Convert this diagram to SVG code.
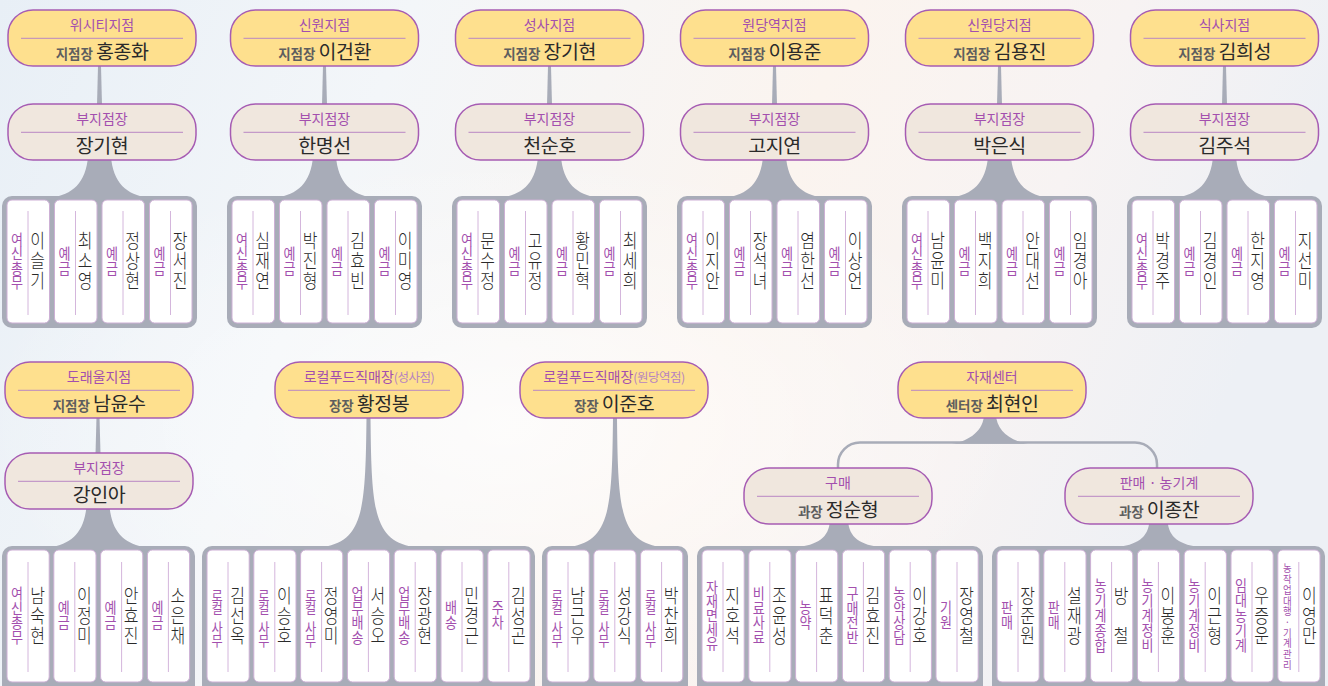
<svg xmlns="http://www.w3.org/2000/svg" xmlns:xlink="http://www.w3.org/1999/xlink" width="1328" height="686" viewBox="0 0 1328 686">
<defs>
<linearGradient id="bg" x1="0" y1="0" x2="1" y2="0.2">
<stop offset="0" stop-color="#e8eff6"/>
<stop offset="0.3" stop-color="#f3f6f9"/>
<stop offset="0.62" stop-color="#fbf4ef"/>
<stop offset="0.82" stop-color="#f7f3f3"/>
<stop offset="1" stop-color="#edf0f5"/>
</linearGradient>
<radialGradient id="glow" cx="0.38" cy="0.62" r="0.4">
<stop offset="0" stop-color="#ffffff" stop-opacity="0.7"/>
<stop offset="1" stop-color="#ffffff" stop-opacity="0"/>
</radialGradient>
<g id="cT"><rect class="card" width="42.5" height="123" rx="5"/><line class="cl" x1="21" y1="11" x2="21" y2="115"/></g>
<g id="cB"><rect class="card" width="42.2" height="132" rx="5"/><line class="cl" x1="21" y1="12" x2="21" y2="122"/></g>
</defs>
<style>
text{font-family:'Noto Sans CJK KR','Noto Sans',sans-serif}
.card{fill:#ffffff;stroke:#cdb0d5;stroke-width:1}
.cl{stroke:#d4b6dc;stroke-width:1}
.box{fill:#a8acb8}
.pill{stroke:#a65cb3;stroke-width:1.5}
.yl{fill:#fee08e}
.bz{fill:#f0e7de}
.dv{stroke:#b987c4;stroke-width:1}
.tt{font-size:14px;fill:#a34fae;text-anchor:middle}
.sm{font-size:12.5px;fill:#b784c0;letter-spacing:-0.5px}
.n2{font-size:19.5px;fill:#2a2a2a;text-anchor:middle;letter-spacing:-0.5px}
.lb{font-size:13.5px;fill:#5e5e5e;font-weight:700;letter-spacing:0}
.nm{font-size:19.5px;fill:#2a2a2a;text-anchor:middle;font-weight:300}
.rl{font-size:14.5px;fill:#a34fae;text-anchor:middle}
.rs{font-size:13.5px;fill:#a34fae;text-anchor:middle}
.rx{font-size:10.5px;fill:#a34fae;text-anchor:middle}
.conn{fill:#a8acb8}
.ln{fill:none;stroke:#a8acb8;stroke-width:2.5}
</style>
<rect width="1328" height="686" fill="url(#bg)"/>
<rect width="1328" height="686" fill="url(#glow)"/>

<g id="connectors">
<path class="conn" d="M98 66 L101 66 L102 105 L97 105 Z"/>
<path class="conn" d="M323 66 L326 66 L327 105 L322 105 Z"/>
<path class="conn" d="M548 66 L551 66 L552 105 L547 105 Z"/>
<path class="conn" d="M773 66 L776 66 L777 105 L772 105 Z"/>
<path class="conn" d="M998 66 L1001 66 L1002 105 L997 105 Z"/>
<path class="conn" d="M1223 66 L1226 66 L1227 105 L1222 105 Z"/>
<path class="conn" d="M88.5 150 C87.5 180 75.5 193 54.5 197 L144.5 197 C123.5 193 111.5 180 110.5 150 Z"/>
<path class="conn" d="M313.5 150 C312.5 180 300.5 193 279.5 197 L369.5 197 C348.5 193 336.5 180 335.5 150 Z"/>
<path class="conn" d="M538.5 150 C537.5 180 525.5 193 504.5 197 L594.5 197 C573.5 193 561.5 180 560.5 150 Z"/>
<path class="conn" d="M763.5 150 C762.5 180 750.5 193 729.5 197 L819.5 197 C798.5 193 786.5 180 785.5 150 Z"/>
<path class="conn" d="M988.5 150 C987.5 180 975.5 193 954.5 197 L1044.5 197 C1023.5 193 1011.5 180 1010.5 150 Z"/>
<path class="conn" d="M1213.5 150 C1212.5 180 1200.5 193 1179.5 197 L1269.5 197 C1248.5 193 1236.5 180 1235.5 150 Z"/>
<path class="conn" d="M96.5 417 L99.5 417 L100.5 454 L95.5 454 Z"/>
<path class="conn" d="M87 499 C86 529 75 542 53 547 L143 547 C121 542 110 529 109 499 Z"/>
<path class="conn" d="M366.5 417 C365.5 510 363.5 540 323.5 547 L413.5 547 C373.5 540 371.5 510 370.5 417 Z"/>
<path class="conn" d="M613 417 C612 510 610 540 570 547 L660 547 C620 540 618 510 617 417 Z"/>
<path class="conn" d="M984 414 C984 430 970 441 952 443.8 L1028 443.8 C1010 441 996 430 996 414 Z"/>
<path class="ln" d="M838 472 V465 A22 22 0 0 1 860 442.5 H1135 A22 22 0 0 1 1157 465 V472"/>
<path class="conn" d="M830 518 C830 535 821 544 799 547 L879 547 C857 544 848 535 848 518 Z"/>
<path class="conn" d="M1149.5 518 C1149.5 535 1140.5 544 1118.5 547 L1198.5 547 C1176.5 544 1167.5 535 1167.5 518 Z"/>
</g>

<g id="b1">
<g id="n-wisiti"><rect class="pill yl" x="8" y="10" width="188" height="56" rx="25"/><line class="dv" x1="21" y1="38.3" x2="183" y2="38.3"/><text class="tt" x="102" y="30">위시티지점</text><text class="n2" x="102" y="58.5"><tspan class="lb">지점장 </tspan>홍종화</text></g>
<g id="n-wisiti-sub"><rect class="pill bz" x="8" y="104" width="188" height="56" rx="25"/><line class="dv" x1="21" y1="132.3" x2="183" y2="132.3"/><text class="tt" x="102" y="124">부지점장</text><text class="n2" x="102" y="153">장기현</text></g>
<g id="s-wisiti"><rect class="box" x="2" y="196" width="195" height="132" rx="10"/>
<g transform="translate(7 200)"><use href="#cT"/><text class="rl" transform="translate(10 0) scale(.9 1)" x="0 0 0 0" y="44.75 59.25 73.75 88.25">여신총무</text><text class="nm" transform="translate(30.5 0) scale(.82 1)" x="0 0 0" y="48.5 68.5 88.5">이슬기</text></g>
<g transform="translate(54.5 200)"><use href="#cT"/><text class="rl" transform="translate(10 0) scale(.9 1)" x="0 0" y="59 74">예금</text><text class="nm" transform="translate(30.5 0) scale(.82 1)" x="0 0 0" y="48.5 68.5 88.5">최소영</text></g>
<g transform="translate(102 200)"><use href="#cT"/><text class="rl" transform="translate(10 0) scale(.9 1)" x="0 0" y="59 74">예금</text><text class="nm" transform="translate(30.5 0) scale(.82 1)" x="0 0 0" y="48.5 68.5 88.5">정상현</text></g>
<g transform="translate(149.5 200)"><use href="#cT"/><text class="rl" transform="translate(10 0) scale(.9 1)" x="0 0" y="59 74">예금</text><text class="nm" transform="translate(30.5 0) scale(.82 1)" x="0 0 0" y="48.5 68.5 88.5">장서진</text></g>
</g>
</g>

<g id="b2">
<g id="n-sinwon"><rect class="pill yl" x="230.5" y="10" width="188" height="56" rx="25"/><line class="dv" x1="243.5" y1="38.3" x2="405.5" y2="38.3"/><text class="tt" x="324.5" y="30">신원지점</text><text class="n2" x="324.5" y="58.5"><tspan class="lb">지점장 </tspan>이건환</text></g>
<g id="n-sinwon-sub"><rect class="pill bz" x="230.5" y="104" width="188" height="56" rx="25"/><line class="dv" x1="243.5" y1="132.3" x2="405.5" y2="132.3"/><text class="tt" x="324.5" y="124">부지점장</text><text class="n2" x="324.5" y="153">한명선</text></g>
<g id="s-sinwon"><rect class="box" x="227" y="196" width="195" height="132" rx="10"/>
<g transform="translate(232 200)"><use href="#cT"/><text class="rl" transform="translate(10 0) scale(.9 1)" x="0 0 0 0" y="44.75 59.25 73.75 88.25">여신총무</text><text class="nm" transform="translate(30.5 0) scale(.82 1)" x="0 0 0" y="48.5 68.5 88.5">심재연</text></g>
<g transform="translate(279.5 200)"><use href="#cT"/><text class="rl" transform="translate(10 0) scale(.9 1)" x="0 0" y="59 74">예금</text><text class="nm" transform="translate(30.5 0) scale(.82 1)" x="0 0 0" y="48.5 68.5 88.5">박진형</text></g>
<g transform="translate(327 200)"><use href="#cT"/><text class="rl" transform="translate(10 0) scale(.9 1)" x="0 0" y="59 74">예금</text><text class="nm" transform="translate(30.5 0) scale(.82 1)" x="0 0 0" y="48.5 68.5 88.5">김효빈</text></g>
<g transform="translate(374.5 200)"><use href="#cT"/><text class="rl" transform="translate(10 0) scale(.9 1)" x="0 0" y="59 74">예금</text><text class="nm" transform="translate(30.5 0) scale(.82 1)" x="0 0 0" y="48.5 68.5 88.5">이미영</text></g>
</g>
</g>

<g id="b3">
<g id="n-seongsa"><rect class="pill yl" x="455.5" y="10" width="188" height="56" rx="25"/><line class="dv" x1="468.5" y1="38.3" x2="630.5" y2="38.3"/><text class="tt" x="549.5" y="30">성사지점</text><text class="n2" x="549.5" y="58.5"><tspan class="lb">지점장 </tspan>장기현</text></g>
<g id="n-seongsa-sub"><rect class="pill bz" x="455.5" y="104" width="188" height="56" rx="25"/><line class="dv" x1="468.5" y1="132.3" x2="630.5" y2="132.3"/><text class="tt" x="549.5" y="124">부지점장</text><text class="n2" x="549.5" y="153">천순호</text></g>
<g id="s-seongsa"><rect class="box" x="452" y="196" width="195" height="132" rx="10"/>
<g transform="translate(457 200)"><use href="#cT"/><text class="rl" transform="translate(10 0) scale(.9 1)" x="0 0 0 0" y="44.75 59.25 73.75 88.25">여신총무</text><text class="nm" transform="translate(30.5 0) scale(.82 1)" x="0 0 0" y="48.5 68.5 88.5">문수정</text></g>
<g transform="translate(504.5 200)"><use href="#cT"/><text class="rl" transform="translate(10 0) scale(.9 1)" x="0 0" y="59 74">예금</text><text class="nm" transform="translate(30.5 0) scale(.82 1)" x="0 0 0" y="48.5 68.5 88.5">고유정</text></g>
<g transform="translate(552 200)"><use href="#cT"/><text class="rl" transform="translate(10 0) scale(.9 1)" x="0 0" y="59 74">예금</text><text class="nm" transform="translate(30.5 0) scale(.82 1)" x="0 0 0" y="48.5 68.5 88.5">황민혁</text></g>
<g transform="translate(599.5 200)"><use href="#cT"/><text class="rl" transform="translate(10 0) scale(.9 1)" x="0 0" y="59 74">예금</text><text class="nm" transform="translate(30.5 0) scale(.82 1)" x="0 0 0" y="48.5 68.5 88.5">최세희</text></g>
</g>
</g>

<g id="b4">
<g id="n-wondang"><rect class="pill yl" x="680.5" y="10" width="188" height="56" rx="25"/><line class="dv" x1="693.5" y1="38.3" x2="855.5" y2="38.3"/><text class="tt" x="774.5" y="30">원당역지점</text><text class="n2" x="774.5" y="58.5"><tspan class="lb">지점장 </tspan>이용준</text></g>
<g id="n-wondang-sub"><rect class="pill bz" x="680.5" y="104" width="188" height="56" rx="25"/><line class="dv" x1="693.5" y1="132.3" x2="855.5" y2="132.3"/><text class="tt" x="774.5" y="124">부지점장</text><text class="n2" x="774.5" y="153">고지연</text></g>
<g id="s-wondang"><rect class="box" x="677" y="196" width="195" height="132" rx="10"/>
<g transform="translate(682 200)"><use href="#cT"/><text class="rl" transform="translate(10 0) scale(.9 1)" x="0 0 0 0" y="44.75 59.25 73.75 88.25">여신총무</text><text class="nm" transform="translate(30.5 0) scale(.82 1)" x="0 0 0" y="48.5 68.5 88.5">이지안</text></g>
<g transform="translate(729.5 200)"><use href="#cT"/><text class="rl" transform="translate(10 0) scale(.9 1)" x="0 0" y="59 74">예금</text><text class="nm" transform="translate(30.5 0) scale(.82 1)" x="0 0 0" y="48.5 68.5 88.5">장석녀</text></g>
<g transform="translate(777 200)"><use href="#cT"/><text class="rl" transform="translate(10 0) scale(.9 1)" x="0 0" y="59 74">예금</text><text class="nm" transform="translate(30.5 0) scale(.82 1)" x="0 0 0" y="48.5 68.5 88.5">염한선</text></g>
<g transform="translate(824.5 200)"><use href="#cT"/><text class="rl" transform="translate(10 0) scale(.9 1)" x="0 0" y="59 74">예금</text><text class="nm" transform="translate(30.5 0) scale(.82 1)" x="0 0 0" y="48.5 68.5 88.5">이상언</text></g>
</g>
</g>

<g id="b5">
<g id="n-sinwondang"><rect class="pill yl" x="905.5" y="10" width="188" height="56" rx="25"/><line class="dv" x1="918.5" y1="38.3" x2="1080.5" y2="38.3"/><text class="tt" x="999.5" y="30">신원당지점</text><text class="n2" x="999.5" y="58.5"><tspan class="lb">지점장 </tspan>김용진</text></g>
<g id="n-sinwondang-sub"><rect class="pill bz" x="905.5" y="104" width="188" height="56" rx="25"/><line class="dv" x1="918.5" y1="132.3" x2="1080.5" y2="132.3"/><text class="tt" x="999.5" y="124">부지점장</text><text class="n2" x="999.5" y="153">박은식</text></g>
<g id="s-sinwondang"><rect class="box" x="902" y="196" width="195" height="132" rx="10"/>
<g transform="translate(907 200)"><use href="#cT"/><text class="rl" transform="translate(10 0) scale(.9 1)" x="0 0 0 0" y="44.75 59.25 73.75 88.25">여신총무</text><text class="nm" transform="translate(30.5 0) scale(.82 1)" x="0 0 0" y="48.5 68.5 88.5">남윤미</text></g>
<g transform="translate(954.5 200)"><use href="#cT"/><text class="rl" transform="translate(10 0) scale(.9 1)" x="0 0" y="59 74">예금</text><text class="nm" transform="translate(30.5 0) scale(.82 1)" x="0 0 0" y="48.5 68.5 88.5">백지희</text></g>
<g transform="translate(1002 200)"><use href="#cT"/><text class="rl" transform="translate(10 0) scale(.9 1)" x="0 0" y="59 74">예금</text><text class="nm" transform="translate(30.5 0) scale(.82 1)" x="0 0 0" y="48.5 68.5 88.5">안대선</text></g>
<g transform="translate(1049.5 200)"><use href="#cT"/><text class="rl" transform="translate(10 0) scale(.9 1)" x="0 0" y="59 74">예금</text><text class="nm" transform="translate(30.5 0) scale(.82 1)" x="0 0 0" y="48.5 68.5 88.5">임경아</text></g>
</g>
</g>

<g id="b6">
<g id="n-siksa"><rect class="pill yl" x="1130.5" y="10" width="188" height="56" rx="25"/><line class="dv" x1="1143.5" y1="38.3" x2="1305.5" y2="38.3"/><text class="tt" x="1224.5" y="30">식사지점</text><text class="n2" x="1224.5" y="58.5"><tspan class="lb">지점장 </tspan>김희성</text></g>
<g id="n-siksa-sub"><rect class="pill bz" x="1130.5" y="104" width="188" height="56" rx="25"/><line class="dv" x1="1143.5" y1="132.3" x2="1305.5" y2="132.3"/><text class="tt" x="1224.5" y="124">부지점장</text><text class="n2" x="1224.5" y="153">김주석</text></g>
<g id="s-siksa"><rect class="box" x="1127" y="196" width="195" height="132" rx="10"/>
<g transform="translate(1132 200)"><use href="#cT"/><text class="rl" transform="translate(10 0) scale(.9 1)" x="0 0 0 0" y="44.75 59.25 73.75 88.25">여신총무</text><text class="nm" transform="translate(30.5 0) scale(.82 1)" x="0 0 0" y="48.5 68.5 88.5">박경주</text></g>
<g transform="translate(1179.5 200)"><use href="#cT"/><text class="rl" transform="translate(10 0) scale(.9 1)" x="0 0" y="59 74">예금</text><text class="nm" transform="translate(30.5 0) scale(.82 1)" x="0 0 0" y="48.5 68.5 88.5">김경인</text></g>
<g transform="translate(1227 200)"><use href="#cT"/><text class="rl" transform="translate(10 0) scale(.9 1)" x="0 0" y="59 74">예금</text><text class="nm" transform="translate(30.5 0) scale(.82 1)" x="0 0 0" y="48.5 68.5 88.5">한지영</text></g>
<g transform="translate(1274.5 200)"><use href="#cT"/><text class="rl" transform="translate(10 0) scale(.9 1)" x="0 0" y="59 74">예금</text><text class="nm" transform="translate(30.5 0) scale(.82 1)" x="0 0 0" y="48.5 68.5 88.5">지선미</text></g>
</g>
</g>

<g id="b7">
<g id="n-doraeul"><rect class="pill yl" x="5" y="362" width="188" height="56" rx="25"/><line class="dv" x1="18" y1="390.3" x2="180" y2="390.3"/><text class="tt" x="99" y="382">도래울지점</text><text class="n2" x="99" y="410.5"><tspan class="lb">지점장 </tspan>남윤수</text></g>
<g id="n-doraeul-sub"><rect class="pill bz" x="5" y="453" width="188" height="56" rx="25"/><line class="dv" x1="18" y1="481.3" x2="180" y2="481.3"/><text class="tt" x="99" y="473">부지점장</text><text class="n2" x="99" y="502">강인아</text></g>
<g id="s-doraeul"><rect class="box" x="2" y="546" width="193" height="150" rx="10"/>
<g transform="translate(7 550)"><use href="#cB"/><text class="rl" transform="translate(10 0) scale(.9 1)" x="0 0 0 0" y="49.25 63.75 78.25 92.75">여신총무</text><text class="nm" transform="translate(30.5 0) scale(.82 1)" x="0 0 0" y="53 73 93">남숙현</text></g>
<g transform="translate(53.8 550)"><use href="#cB"/><text class="rl" transform="translate(10 0) scale(.9 1)" x="0 0" y="63.5 78.5">예금</text><text class="nm" transform="translate(30.5 0) scale(.82 1)" x="0 0 0" y="53 73 93">이정미</text></g>
<g transform="translate(100.6 550)"><use href="#cB"/><text class="rl" transform="translate(10 0) scale(.9 1)" x="0 0" y="63.5 78.5">예금</text><text class="nm" transform="translate(30.5 0) scale(.82 1)" x="0 0 0" y="53 73 93">안효진</text></g>
<g transform="translate(147.4 550)"><use href="#cB"/><text class="rl" transform="translate(10 0) scale(.9 1)" x="0 0" y="63.5 78.5">예금</text><text class="nm" transform="translate(30.5 0) scale(.82 1)" x="0 0 0" y="53 73 93">소은채</text></g>
</g>
</g>

<g id="b8">
<g id="n-local-seongsa"><rect class="pill yl" x="275" y="362" width="188" height="56" rx="25"/><line class="dv" x1="288" y1="390.3" x2="450" y2="390.3"/><text class="tt" x="369" y="382">로컬푸드직매장<tspan class="sm">(성사점)</tspan></text><text class="n2" x="369" y="410.5"><tspan class="lb">장장 </tspan>황정봉</text></g>
<g id="s-local-seongsa"><rect class="box" x="202" y="546" width="333" height="150" rx="10"/>
<g transform="translate(207 550)"><use href="#cB"/><text class="rs" transform="translate(10 0) scale(.9 1)" x="0 0 0 0 0" y="50.6 63.1 73.1 83.1 95.6">로컬 사무</text><text class="nm" transform="translate(30.5 0) scale(.82 1)" x="0 0 0" y="53 73 93">김선옥</text></g>
<g transform="translate(253.8 550)"><use href="#cB"/><text class="rs" transform="translate(10 0) scale(.9 1)" x="0 0 0 0 0" y="50.6 63.1 73.1 83.1 95.6">로컬 사무</text><text class="nm" transform="translate(30.5 0) scale(.82 1)" x="0 0 0" y="53 73 93">이승호</text></g>
<g transform="translate(300.6 550)"><use href="#cB"/><text class="rs" transform="translate(10 0) scale(.9 1)" x="0 0 0 0 0" y="50.6 63.1 73.1 83.1 95.6">로컬 사무</text><text class="nm" transform="translate(30.5 0) scale(.82 1)" x="0 0 0" y="53 73 93">정영미</text></g>
<g transform="translate(347.4 550)"><use href="#cB"/><text class="rl" transform="translate(10 0) scale(.9 1)" x="0 0 0 0" y="49.25 63.75 78.25 92.75">업무배송</text><text class="nm" transform="translate(30.5 0) scale(.82 1)" x="0 0 0" y="53 73 93">서승오</text></g>
<g transform="translate(394.2 550)"><use href="#cB"/><text class="rl" transform="translate(10 0) scale(.9 1)" x="0 0 0 0" y="49.25 63.75 78.25 92.75">업무배송</text><text class="nm" transform="translate(30.5 0) scale(.82 1)" x="0 0 0" y="53 73 93">장광현</text></g>
<g transform="translate(441 550)"><use href="#cB"/><text class="rl" transform="translate(10 0) scale(.9 1)" x="0 0" y="63.5 78.5">배송</text><text class="nm" transform="translate(30.5 0) scale(.82 1)" x="0 0 0" y="53 73 93">민경근</text></g>
<g transform="translate(487.8 550)"><use href="#cB"/><text class="rl" transform="translate(10 0) scale(.9 1)" x="0 0" y="63.5 78.5">주차</text><text class="nm" transform="translate(30.5 0) scale(.82 1)" x="0 0 0" y="53 73 93">김성곤</text></g>
</g>
</g>

<g id="b9">
<g id="n-local-wondang"><rect class="pill yl" x="520" y="362" width="188" height="56" rx="25"/><line class="dv" x1="533" y1="390.3" x2="695" y2="390.3"/><text class="tt" x="614" y="382">로컬푸드직매장<tspan class="sm">(원당역점)</tspan></text><text class="n2" x="614" y="410.5"><tspan class="lb">장장 </tspan>이준호</text></g>
<g id="s-local-wondang"><rect class="box" x="542" y="546" width="146" height="150" rx="10"/>
<g transform="translate(547 550)"><use href="#cB"/><text class="rs" transform="translate(10 0) scale(.9 1)" x="0 0 0 0 0" y="50.6 63.1 73.1 83.1 95.6">로컬 사무</text><text class="nm" transform="translate(30.5 0) scale(.82 1)" x="0 0 0" y="53 73 93">남근우</text></g>
<g transform="translate(593.8 550)"><use href="#cB"/><text class="rs" transform="translate(10 0) scale(.9 1)" x="0 0 0 0 0" y="50.6 63.1 73.1 83.1 95.6">로컬 사무</text><text class="nm" transform="translate(30.5 0) scale(.82 1)" x="0 0 0" y="53 73 93">성강식</text></g>
<g transform="translate(640.6 550)"><use href="#cB"/><text class="rs" transform="translate(10 0) scale(.9 1)" x="0 0 0 0 0" y="50.6 63.1 73.1 83.1 95.6">로컬 사무</text><text class="nm" transform="translate(30.5 0) scale(.82 1)" x="0 0 0" y="53 73 93">박찬희</text></g>
</g>
</g>

<g id="b10">
<g id="n-jajae"><rect class="pill yl" x="898" y="362" width="188" height="56" rx="25"/><line class="dv" x1="911" y1="390.3" x2="1073" y2="390.3"/><text class="tt" x="992" y="382">자재센터</text><text class="n2" x="992" y="410.5"><tspan class="lb">센터장 </tspan>최현인</text></g>
<g id="n-gumae"><rect class="pill bz" x="744" y="468" width="188" height="56" rx="25"/><line class="dv" x1="757" y1="496.3" x2="919" y2="496.3"/><text class="tt" x="838" y="488">구매</text><text class="n2" x="838" y="516.5"><tspan class="lb">과장 </tspan>정순형</text></g>
<g id="s-gumae"><rect class="box" x="697" y="546" width="286" height="150" rx="10"/>
<g transform="translate(702 550)"><use href="#cB"/><text class="rl" transform="translate(10 0) scale(.9 1)" x="0 0 0 0 0" y="43 57 71 85 99">자재면세유</text><text class="nm" transform="translate(30.5 0) scale(.82 1)" x="0 0 0" y="53 73 93">지호석</text></g>
<g transform="translate(748.8 550)"><use href="#cB"/><text class="rl" transform="translate(10 0) scale(.9 1)" x="0 0 0 0" y="49.25 63.75 78.25 92.75">비료사료</text><text class="nm" transform="translate(30.5 0) scale(.82 1)" x="0 0 0" y="53 73 93">조윤성</text></g>
<g transform="translate(795.6 550)"><use href="#cB"/><text class="rl" transform="translate(10 0) scale(.9 1)" x="0 0" y="63.5 78.5">농약</text><text class="nm" transform="translate(30.5 0) scale(.82 1)" x="0 0 0" y="53 73 93">표덕춘</text></g>
<g transform="translate(842.4 550)"><use href="#cB"/><text class="rl" transform="translate(10 0) scale(.9 1)" x="0 0 0 0" y="49.25 63.75 78.25 92.75">구매전반</text><text class="nm" transform="translate(30.5 0) scale(.82 1)" x="0 0 0" y="53 73 93">김효진</text></g>
<g transform="translate(889.2 550)"><use href="#cB"/><text class="rl" transform="translate(10 0) scale(.9 1)" x="0 0 0 0" y="49.25 63.75 78.25 92.75">농약상담</text><text class="nm" transform="translate(30.5 0) scale(.82 1)" x="0 0 0" y="53 73 93">이강호</text></g>
<g transform="translate(936 550)"><use href="#cB"/><text class="rl" transform="translate(10 0) scale(.9 1)" x="0 0" y="63.5 78.5">기원</text><text class="nm" transform="translate(30.5 0) scale(.82 1)" x="0 0 0" y="53 73 93">장영철</text></g>
</g>
<g id="n-panmae"><rect class="pill bz" x="1065" y="468" width="188" height="56" rx="25"/><line class="dv" x1="1078" y1="496.3" x2="1240" y2="496.3"/><text class="tt" x="1159" y="488">판매 · 농기계</text><text class="n2" x="1159" y="516.5"><tspan class="lb">과장 </tspan>이종찬</text></g>
<g id="s-panmae"><rect class="box" x="992" y="546" width="333" height="150" rx="10"/>
<g transform="translate(997 550)"><use href="#cB"/><text class="rl" transform="translate(10 0) scale(.9 1)" x="0 0" y="63.5 78.5">판매</text><text class="nm" transform="translate(30.5 0) scale(.82 1)" x="0 0 0" y="53 73 93">장준원</text></g>
<g transform="translate(1043.8 550)"><use href="#cB"/><text class="rl" transform="translate(10 0) scale(.9 1)" x="0 0" y="63.5 78.5">판매</text><text class="nm" transform="translate(30.5 0) scale(.82 1)" x="0 0 0" y="53 73 93">설재광</text></g>
<g transform="translate(1090.6 550)"><use href="#cB"/><text class="rl" transform="translate(10 0) scale(.9 1)" x="0 0 0 0 0" y="41 56 71 86 101">농기계종합</text><text class="nm" transform="translate(30.5 0) scale(.82 1)" x="0 0 0" y="53 73 93">방 철</text></g>
<g transform="translate(1137.4 550)"><use href="#cB"/><text class="rl" transform="translate(10 0) scale(.9 1)" x="0 0 0 0 0" y="41 56 71 86 101">농기계정비</text><text class="nm" transform="translate(30.5 0) scale(.82 1)" x="0 0 0" y="53 73 93">이봉훈</text></g>
<g transform="translate(1184.2 550)"><use href="#cB"/><text class="rl" transform="translate(10 0) scale(.9 1)" x="0 0 0 0 0" y="41 56 71 86 101">농기계정비</text><text class="nm" transform="translate(30.5 0) scale(.82 1)" x="0 0 0" y="53 73 93">이근형</text></g>
<g transform="translate(1231 550)"><use href="#cB"/><text class="rl" transform="translate(10 0) scale(.9 1)" x="0 0 0 0 0" y="41 56 71 86 101">임대농기계</text><text class="nm" transform="translate(30.5 0) scale(.82 1)" x="0 0 0" y="53 73 93">우증운</text></g>
<g transform="translate(1277.8 550)"><use href="#cB"/><text class="rx" transform="translate(9.5 0) scale(.9 1)" x="0 0 0 0 0 0 0 0 0 0" y="22.45 33.15 43.85 54.55 65.25 75.95 86.65 97.35 108.05 118.75">농작업대행·기계관리</text><text class="nm" transform="translate(31.5 0) scale(.82 1)" x="0 0 0" y="53 73 93">이영만</text></g>
</g>
</g>
</svg>
